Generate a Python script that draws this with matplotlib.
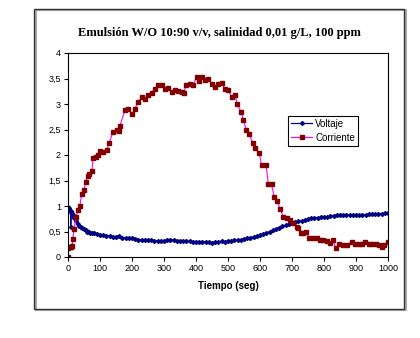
import matplotlib.pyplot as plt
from matplotlib.patches import Rectangle
from matplotlib.ticker import FuncFormatter

# Voltaje (navy, small diamonds)
volt_t = [0, 2, 4, 6, 8, 8.5, 10, 12, 14, 16, 18, 20, 25, 30, 35, 40, 45, 50, 55, 60, 65,
          70, 75, 80, 90, 100, 110, 120, 130, 140, 150, 160, 170, 180, 190, 200,
          210, 220, 230, 240, 250, 260, 270, 280, 290, 300, 310, 320, 330, 340, 350,
          360, 370, 380, 390, 400, 410, 420, 430, 440, 450, 460, 470, 480, 490, 500,
          510, 520, 530, 540, 550, 560, 570, 580, 590, 600, 610, 620, 630, 640, 650,
          660, 670, 680, 690, 700, 710, 720, 730, 740, 750, 760, 770, 780, 790, 800,
          810, 820, 830, 840, 850, 860, 870, 880, 890, 900, 910, 920, 930, 940, 950,
          960, 970, 980, 990, 1000]
volt_v = [0.98, 0.96, 0.93, 0.91, 0.90, 0.58, 0.88, 0.86, 0.85, 0.83, 0.80, 0.76, 0.70, 0.65, 0.61, 0.58, 0.56, 0.54, 0.52, 0.50, 0.49,
          0.48, 0.47, 0.47, 0.46, 0.44, 0.43, 0.42, 0.42, 0.40, 0.40, 0.41, 0.38, 0.37, 0.37, 0.37,
          0.36, 0.34, 0.34, 0.33, 0.33, 0.33, 0.32, 0.32, 0.32, 0.32, 0.33, 0.33, 0.33, 0.32, 0.32,
          0.31, 0.31, 0.31, 0.30, 0.30, 0.30, 0.30, 0.30, 0.29, 0.28, 0.30, 0.30, 0.31, 0.30, 0.31,
          0.32, 0.33, 0.33, 0.34, 0.35, 0.37, 0.38, 0.40, 0.41, 0.43, 0.45, 0.47, 0.50, 0.52, 0.55,
          0.57, 0.60, 0.62, 0.64, 0.66, 0.68, 0.70, 0.71, 0.73, 0.74, 0.76, 0.77, 0.77, 0.78, 0.78,
          0.79, 0.80, 0.81, 0.82, 0.82, 0.82, 0.82, 0.82, 0.82, 0.83, 0.83, 0.83, 0.83, 0.84, 0.84,
          0.84, 0.85, 0.85, 0.86, 0.86]

# Corriente (magenta line, dark red squares)
corr_t = [0, 1, 5, 9, 13, 15, 19, 25, 32, 37, 43, 50, 56, 61, 67, 74, 79, 87, 93, 100,
          110, 121, 129, 140, 152, 160, 162, 178, 188, 199, 209, 220, 230, 240, 251, 261,
          272, 282, 293, 303, 313, 324, 334, 345, 355, 362, 369, 381, 390, 402, 410, 418,
          428, 438, 449, 459, 470, 480, 491, 501, 511, 522, 529, 540, 548, 557, 567, 577,
          584, 598, 605, 619, 626, 636, 644, 654, 662, 673, 683, 694, 704, 715, 720, 727,
          735, 745, 754, 767, 777, 788, 798, 808, 819, 827, 838, 848, 860, 871, 887, 898,
          908, 919, 929, 940, 950, 961, 971, 981, 988, 999]
corr_v = [0.0, 0.18, 0.20, 0.20, 0.22, 0.35, 0.55, 0.78, 0.93, 1.00, 1.24, 1.32, 1.48, 1.58, 1.63, 1.68, 1.94, 1.96, 2.00, 2.07,
          2.05, 2.09, 2.24, 2.45, 2.49, 2.48, 2.57, 2.88, 2.91, 2.80, 2.91, 3.04, 3.13, 3.10, 3.17, 3.22,
          3.30, 3.37, 3.37, 3.29, 3.31, 3.24, 3.28, 3.26, 3.24, 3.22, 3.37, 3.40, 3.37, 3.53, 3.45, 3.53,
          3.48, 3.49, 3.40, 3.33, 3.40, 3.41, 3.29, 3.27, 3.13, 3.18, 3.00, 2.85, 2.69, 2.49, 2.41, 2.23,
          2.13, 2.03, 1.80, 1.80, 1.44, 1.43, 1.18, 1.10, 0.95, 0.79, 0.76, 0.73, 0.67, 0.59, 0.56, 0.48,
          0.48, 0.49, 0.37, 0.37, 0.37, 0.33, 0.34, 0.32, 0.28, 0.33, 0.17, 0.25, 0.23, 0.24, 0.30, 0.25,
          0.26, 0.25, 0.30, 0.26, 0.25, 0.25, 0.24, 0.19, 0.24, 0.30]

title = "Emulsión W/O 10:90 v/v, salinidad 0,01 g/L, 100 ppm"

fig = plt.figure(figsize=(4.2, 3.38), dpi=100)
fig.patch.set_facecolor("white")

# outer chart frame (with a little shadow)
fig.patches.append(Rectangle((35.5 / 420, 1 - 310 / 338), 370 / 420, 300 / 338,
                             transform=fig.transFigure, fill=False,
                             edgecolor="#aaaaaa", linewidth=1.5, zorder=0))
fig.patches.append(Rectangle((34 / 420, 1 - 309 / 338), 370 / 420, 300 / 338,
                             transform=fig.transFigure, fill=False,
                             edgecolor="#333333", linewidth=1.0, zorder=1))

ax = fig.add_axes([68 / 420, 1 - 257 / 338, 320 / 420, 204 / 338])

ax.plot(volt_t, volt_v, color="#000080", linewidth=0.9, marker="D", markersize=2,
        markerfacecolor="#000080", markeredgecolor="#000080", label="Voltaje")
ax.plot(corr_t, corr_v, color="#FF00FF", linewidth=0.8, marker="s", markersize=3.2,
        markerfacecolor="#800000", markeredgecolor="#800000", label="Corriente")

ax.set_xlim(0, 1000)
ax.set_ylim(0, 4)
ax.set_xticks(range(0, 1001, 100))
ax.set_yticks([i * 0.5 for i in range(9)])
ax.yaxis.set_major_formatter(FuncFormatter(lambda v, p: ("%g" % v).replace(".", ",")))
ax.tick_params(direction="out", length=3, width=0.8, labelsize=6.5, pad=2)
for lab in ax.get_xticklabels() + ax.get_yticklabels():
    lab.set_fontfamily("Liberation Sans")
for s in ax.spines.values():
    s.set_linewidth(0.8)

ax.set_xlabel("Tiempo (seg)", fontsize=7, fontweight="bold", family="Liberation Sans", labelpad=6)

fig.text(219 / 420, 1 - 33 / 338, title, ha="center", va="center",
         fontsize=9, fontweight="bold", family="Liberation Serif")

leg = ax.legend(loc="upper left", bbox_to_anchor=(0.672, 0.716), fancybox=False,
                framealpha=1, edgecolor="black", prop={"family": "Liberation Sans", "size": 7},
                handlelength=2.2, borderpad=0.3, labelspacing=0.4, handletextpad=0.3)
leg.get_frame().set_linewidth(0.8)

fig.savefig("out.png", dpi=100)
